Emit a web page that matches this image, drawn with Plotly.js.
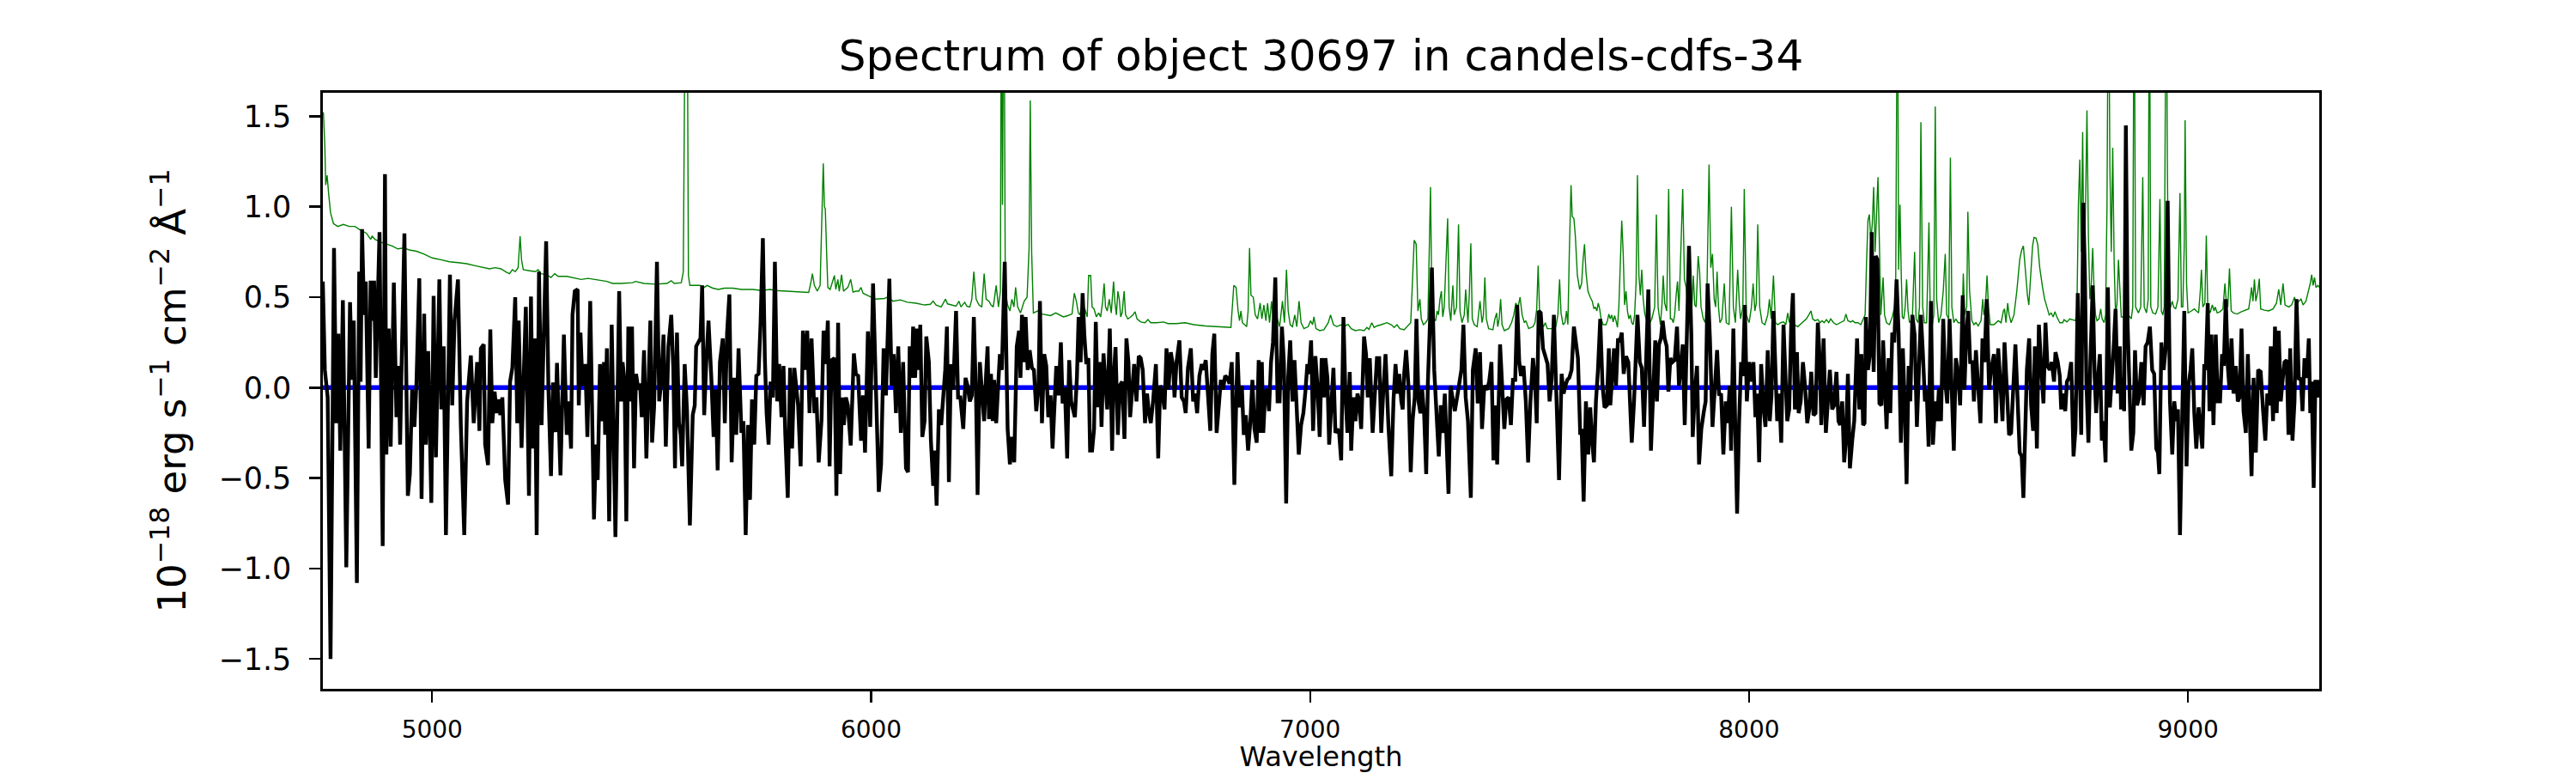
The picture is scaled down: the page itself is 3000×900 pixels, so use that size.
<!DOCTYPE html>
<html>
<head>
<meta charset="utf-8">
<script src="https://cdn.plot.ly/plotly-3.0.1.min.js"></script>
<style>
html,body{margin:0;padding:0;background:#fff;}
#chart{width:3000px;height:900px;}
</style>
</head>
<body>
<div id="chart"></div>
<script>
// Observed spectrum (black)
const wavelength = [
4750.9,4755.5,4762.0,4768.5,4776.4,4781.6,4786.2,4790.7,4796.6,4804.4,4812.9,4817.5,4821.4,4828.5,4833.8,4837.0,4840.3,4844.9,4848.8,4855.3,4859.9,4864.4,4867.7,4871.6,4880.1,4887.3,4892.5,4895.7,4901.0,4905.5,4912.7,4918.6,4923.8,4927.0,4930.3,4936.8,4944.6,4949.2,4954.4,4959.6,4964.2,4970.7,4975.9,4981.8,4985.7,4990.9,4998.1,5003.3,5008.6,5016.4,5020.9,5026.2,5031.4,5040.5,5045.7,5051.0,5058.8,5065.3,5073.1,5079.7,5088.1,5094.7,5102.5,5107.7,5111.0,5117.5,5120.7,5127.3,5132.5,5137.0,5142.3,5146.8,5151.4,5155.3,5159.9,5166.4,5172.9,5177.5,5182.7,5189.2,5193.8,5197.1,5203.6,5207.5,5213.4,5220.5,5225.1,5229.7,5233.6,5238.1,5243.4,5249.2,5254.4,5259.7,5264.9,5270.7,5275.3,5280.5,5284.4,5292.3,5300.1,5306.6,5311.2,5316.4,5319.7,5324.9,
5331.4,5334.0,5337.9,5342.5,5349.0,5353.6,5360.1,5368.6,5373.2,5377.1,5382.3,5388.2,5391.4,5394.0,5398.0,5403.2,5409.0,5412.9,5417.5,5426.0,5430.6,5433.8,5438.4,5442.3,5446.9,5452.1,5455.3,5459.9,5464.5,5469.7,5473.6,5477.5,5482.7,5488.0,5492.5,5497.1,5501.0,5505.6,5512.1,5517.3,5521.9,5527.1,5532.3,5538.2,5544.7,5549.3,5553.2,5557.7,5562.3,5566.2,5569.5,5575.3,5580.6,5587.1,5593.6,5598.2,5601.4,5606.6,5611.2,5615.1,5619.7,5624.3,5629.5,5636.0,5641.2,5645.8,5650.4,5655.6,5662.1,5666.7,5671.9,5677.1,5682.3,5688.2,5692.7,5698.0,5704.5,5709.0,5714.3,5719.5,5724.1,5728.6,5733.8,5738.4,5743.6,5748.2,5753.4,5757.9,5761.9,5766.4,5771.0,5776.2,5780.8,5786.0,5790.6,5795.8,5800.4,5804.3,5810.1,5815.4,5819.9,5825.1,5829.7,5833.6,5839.5,5844.7,5849.9,5854.5,5859.7,5864.3,5870.8,5875.4,5880.6,5887.1,5891.7,5896.9,5901.4,5905.4,5909.9,
5916.4,5920.9,5924.8,5929.4,5934.0,5937.9,5942.5,5947.0,5953.5,5960.7,5965.3,5970.5,5977.0,5981.6,5986.1,5992.7,5997.9,6004.4,6009.6,6017.5,6022.7,6028.5,6033.8,6041.6,6046.8,6051.4,6056.6,6061.8,6067.7,6072.9,6079.4,6084.0,6087.9,6092.5,6095.7,6100.3,6104.2,6108.8,6112.0,6116.6,6121.8,6125.7,6131.6,6136.2,6141.4,6144.6,6149.2,6154.4,6159.6,6164.2,6168.8,6172.7,6177.2,6181.8,6187.0,6193.5,6198.1,6203.3,6209.9,6215.1,6219.6,6224.9,6229.4,6234.0,6239.2,6242.5,6247.7,6252.2,6257.5,6262.0,6265.3,6268.5,6273.1,6277.0,6280.3,6284.9,6289.4,6293.3,6297.9,6304.4,6311.0,6316.2,6320.7,6326.0,6331.8,6337.0,6340.3,6343.6,6348.1,6352.0,6356.6,6361.2,6366.4,6370.9,6376.2,6381.4,6384.6,6389.2,6394.4,6399.0,6403.6,6408.8,6413.3,6417.3,6421.8,6427.0,6432.3,6436.2,6441.4,6446.6,6451.2,6455.7,6459.7,6464.2,6468.8,6472.7,6477.3,6481.8,6485.7,6490.3,6494.9,6498.8,
6503.4,6507.9,6511.8,6516.4,6521.0,6524.9,6529.4,6534.0,6537.9,6543.8,6549.0,6552.3,6556.8,6562.1,6566.6,6571.8,6577.1,6581.6,6586.2,6590.1,6594.7,6599.2,6604.5,6609.7,6614.2,6618.8,6624.0,6628.6,6632.5,6637.1,6642.3,6648.8,6654.0,6658.6,6663.2,6668.4,6672.9,6677.5,6682.7,6687.9,6691.2,6695.7,6702.3,6707.5,6712.7,6716.6,6721.8,6728.4,6733.6,6738.1,6742.7,6747.9,6753.2,6757.7,6762.3,6767.5,6772.7,6777.3,6781.8,6787.1,6791.6,6796.8,6801.4,6806.6,6811.8,6816.4,6821.6,6827.5,6831.4,6834.7,6839.2,6844.5,6849.0,6853.6,6858.8,6864.0,6868.6,6873.2,6878.4,6882.9,6886.9,6890.1,6893.4,6897.9,6902.5,6906.4,6911.0,6915.5,6920.8,6926.0,6930.5,6935.8,6940.3,6945.5,6950.1,6954.7,6959.9,6964.5,6968.4,6974.2,6979.5,6984.7,6989.3,6993.8,6997.1,7002.3,7006.9,7012.1,7016.7,7021.9,7026.4,7031.7,7034.9,7039.5,7043.4,7048.0,7053.2,7057.7,7062.3,7066.2,7070.8,7076.0,7080.6,7085.1,
7090.4,7093.6,7098.8,7103.4,7108.0,7111.9,7116.4,7123.0,7127.5,7131.4,7136.0,7142.5,7147.1,7152.3,7157.5,7162.1,7166.7,7171.9,7178.4,7184.9,7190.1,7194.7,7199.3,7203.2,7207.8,7211.0,7214.3,7218.8,7224.1,7229.3,7233.8,7238.4,7242.3,7246.9,7251.5,7255.4,7259.9,7264.5,7268.4,7273.0,7277.5,7282.8,7288.0,7293.2,7297.8,7302.3,7306.9,7310.2,7315.4,7319.9,7325.2,7329.7,7334.9,7340.2,7344.7,7349.3,7354.5,7359.7,7366.2,7370.8,7377.3,7381.9,7387.1,7391.7,7396.9,7403.4,7408.0,7413.2,7417.8,7421.7,7426.2,7432.8,7438.0,7442.5,7447.1,7452.3,7457.5,7462.1,7467.3,7471.9,7476.5,7480.4,7486.2,7491.5,7496.7,7501.9,7507.8,7512.3,7516.3,7520.8,7525.4,7530.6,7535.8,7541.0,7545.6,7550.2,7555.4,7561.3,7567.1,7573.0,7577.6,7581.5,7586.0,7590.6,7595.8,7601.0,7605.6,7610.2,7615.4,7618.6,7623.2,7628.4,7633.6,7638.2,7642.8,7646.7,7651.2,7655.8,7661.0,7666.2,7670.8,
7676.1,7680.6,7683.9,7688.4,7692.4,7696.9,7701.5,7705.4,7710.0,7714.5,7719.8,7725.0,7728.9,7732.8,7738.0,7741.3,7745.8,7751.1,7755.6,7760.8,7765.4,7770.6,7776.5,7781.7,7786.3,7790.2,7794.8,7799.3,7803.2,7807.8,7812.4,7816.3,7820.8,7825.4,7830.6,7835.9,7840.4,7845.0,7848.9,7853.5,7858.7,7863.2,7868.5,7871.7,7876.3,7881.5,7886.1,7891.3,7897.2,7901.1,7905.6,7910.9,7916.7,7922.0,7927.2,7931.7,7936.3,7941.5,7946.7,7951.3,7955.9,7959.1,7964.3,7968.9,7972.8,7977.4,7981.9,7985.9,7990.4,7995.0,8000.2,8005.4,8010.0,8014.5,8018.5,8023.0,8027.6,8032.8,8037.4,8042.6,8047.2,8051.1,8055.6,8060.2,8064.1,8068.7,8073.3,8078.5,8083.0,8087.0,8091.5,8096.1,8100.0,8104.5,8109.1,8113.0,8117.6,8122.8,8127.4,8132.6,8137.2,8141.7,8146.9,8151.5,8156.7,8161.3,8164.6,8169.8,8175.0,8179.6,8184.1,8189.3,8193.9,8199.1,8203.7,8207.6,8212.2,8216.7,8220.6,8225.2,8229.8,8235.0,8239.6,8246.1,8251.3,8255.9,8259.8,
8263.1,8266.3,8270.9,8275.4,8279.4,8283.9,8288.5,8292.4,8297.0,8301.5,8305.4,8310.0,8313.3,8317.8,8321.8,8326.3,8330.9,8336.1,8340.7,8345.9,8350.4,8354.4,8358.9,8363.5,8367.4,8372.0,8377.2,8382.4,8387.0,8391.5,8396.1,8400.7,8404.6,8409.1,8414.4,8418.9,8424.2,8428.7,8432.6,8437.2,8442.4,8447.0,8451.5,8456.8,8462.0,8466.5,8471.1,8476.3,8480.9,8486.8,8490.7,8494.6,8499.2,8503.7,8508.9,8512.2,8516.8,8522.0,8527.2,8531.8,8536.3,8541.5,8546.8,8551.3,8557.9,8562.4,8567.6,8572.9,8577.4,8582.0,8587.2,8592.4,8597.0,8601.6,8606.8,8612.0,8616.6,8621.1,8625.0,8629.6,8632.9,8638.1,8642.6,8647.2,8651.1,8655.7,8660.3,8665.5,8670.7,8675.3,8679.8,8685.0,8689.6,8694.8,8698.1,8703.3,8707.9,8711.1,8715.7,8720.3,8724.2,8728.7,8733.9,8739.2,8743.7,8748.9,8753.5,8756.8,8761.3,8765.2,8768.5,8773.1,8777.6,8782.9,8787.4,8790.7,8794.6,8799.2,8803.7,8807.6,8812.2,8817.4,8822.0,8826.6,8830.5,8835.0,8839.6,8844.8,8847.4,
8851.3,8854.5,8858.4,8862.3,8866.3,8870.8,8875.4,8879.3,8883.9,8888.4,8893.7,8898.9,8903.4,8908.0,8913.2,8918.4,8923.0,8927.6,8931.5,8934.7,8939.3,8944.5,8949.1,8953.7,8958.9,8964.1,8968.7,8973.2,8977.1,8981.7,8986.3,8991.5,8996.7,9001.3,9005.8,9009.7,9014.3,9018.9,9024.1,9028.7,9032.6,9037.1,9040.4,9045.0,9048.9,9053.4,9058.0,9063.2,9067.8,9073.0,9077.6,9081.5,9086.1,9090.6,9094.5,9099.1,9103.7,9108.9,9113.4,9117.4,9121.9,9126.5,9131.7,9136.3,9140.2,9144.8,9149.3,9154.5,9159.8,9165.6,9170.8,9176.1,9180.6,9185.8,9188.5,9193.7,9198.2,9202.1,9206.7,9211.3,9215.2,9219.8,9225.0,9228.9,9232.8,9238.0,9242.6,9247.2,9252.4,9256.9,9260.8,9265.4,9270.6,9275.2,9278.5,9281.7,9286.3,9290.2,9294.8,9298.0
];
const flux = [
0.587,0.098,-0.054,-1.500,0.772,-0.196,0.298,-0.348,0.483,-0.993,0.472,0.043,0.370,-1.080,0.641,0.033,0.876,0.402,0.587,-0.337,0.591,0.370,0.591,0.054,0.859,-0.876,1.180,-0.370,0.326,-0.326,0.580,-0.163,0.120,-0.315,0.115,0.852,-0.598,-0.478,-0.011,-0.217,0.022,0.604,-0.615,0.409,-0.315,0.202,-0.637,0.507,-0.385,0.598,-0.120,0.228,-0.815,0.624,-0.098,0.370,0.598,-0.207,-0.815,-0.076,0.178,-0.196,0.141,-0.239,0.217,0.239,-0.315,-0.428,0.322,-0.196,-0.022,-0.141,-0.065,-0.152,-0.054,-0.511,-0.646,0.033,0.109,0.500,-0.196,0.370,-0.333,0.017,0.446,-0.598,0.504,-0.337,0.272,-0.815,0.641,-0.207,0.293,0.809,-0.011,-0.489,0.028,-0.246,0.137,-0.485,0.293,-0.261,-0.076,-0.337,0.402,0.533,
0.543,-0.098,0.304,0.011,0.130,-0.272,0.478,-0.728,-0.315,-0.511,0.130,-0.185,0.141,-0.261,0.217,-0.739,0.348,-0.228,-0.826,0.533,-0.076,0.141,0.033,-0.739,0.337,-0.076,0.337,-0.446,0.076,-0.011,0.022,-0.163,0.207,-0.391,-0.043,0.370,-0.304,-0.109,0.696,-0.076,0.033,0.293,-0.326,0.228,0.402,0.109,-0.446,0.304,-0.196,-0.261,-0.435,0.130,-0.130,-0.761,-0.152,-0.098,0.228,0.250,0.272,0.565,-0.152,0.130,0.370,0.054,-0.272,-0.011,-0.457,0.141,0.272,-0.196,0.304,0.515,-0.413,0.054,-0.261,0.217,-0.250,-0.185,-0.815,-0.207,-0.620,-0.065,-0.315,0.065,0.076,0.359,0.826,0.163,-0.141,-0.315,0.033,-0.054,0.696,-0.076,0.130,-0.163,0.120,-0.250,-0.609,0.109,-0.337,0.109,0.011,-0.098,-0.435,0.315,0.098,0.315,-0.141,0.272,-0.141,-0.054,-0.413,-0.174,0.315,0.130,0.370,-0.435,0.152,
0.163,-0.598,0.359,-0.478,-0.054,-0.207,-0.054,-0.098,-0.320,0.189,0.076,0.065,-0.293,-0.043,-0.359,0.311,-0.217,0.576,0.054,-0.576,-0.424,0.217,-0.043,0.602,0.011,0.185,-0.141,0.228,-0.250,0.141,-0.446,-0.467,0.228,0.054,0.337,0.054,0.326,0.098,0.348,-0.272,-0.185,0.283,0.141,-0.293,-0.543,-0.348,-0.652,-0.120,-0.207,-0.054,0.098,0.337,-0.522,0.130,-0.011,0.424,-0.054,-0.054,-0.228,0.054,0.011,-0.076,-0.043,0.391,-0.076,-0.593,0.141,-0.011,-0.185,0.076,0.228,-0.174,0.076,-0.185,0.043,-0.196,0.054,0.185,0.098,0.696,-0.228,-0.424,-0.272,-0.413,0.228,0.315,0.054,0.402,0.141,0.391,0.098,0.207,0.109,0.098,-0.130,0.011,0.478,-0.196,0.185,0.120,-0.163,-0.043,-0.337,-0.120,0.120,-0.043,0.250,-0.087,0.000,-0.391,0.152,-0.076,-0.109,-0.163,0.054,0.391,0.141,0.522,0.293,0.130,0.163,-0.348,
-0.348,-0.228,0.363,-0.109,0.141,-0.217,0.189,-0.011,-0.120,0.326,-0.348,0.043,0.224,-0.261,0.011,0.033,-0.283,0.272,0.141,-0.163,-0.011,0.130,-0.076,0.174,0.163,0.098,-0.196,-0.033,-0.130,-0.196,-0.076,0.130,-0.391,0.011,-0.022,-0.120,0.217,-0.011,0.196,0.120,-0.054,0.141,0.261,-0.054,-0.076,-0.141,0.109,0.217,-0.076,-0.033,-0.141,0.065,0.130,0.098,0.152,-0.076,-0.239,0.185,0.298,-0.250,-0.076,0.043,-0.011,0.065,0.054,0.022,0.141,-0.537,-0.109,0.196,-0.109,0.011,-0.261,-0.152,-0.348,-0.185,0.043,-0.228,-0.304,0.152,-0.250,0.141,-0.250,-0.022,-0.011,-0.130,0.141,0.250,0.609,-0.076,-0.076,0.337,0.141,-0.641,0.054,0.261,-0.076,0.152,-0.054,-0.370,-0.207,-0.141,-0.022,0.130,0.076,0.261,-0.239,0.174,0.011,-0.272,0.163,-0.054,0.163,0.054,-0.315,-0.098,0.109,-0.250,-0.228,-0.250,-0.402,0.391,-0.043,-0.250,
0.087,-0.348,-0.054,-0.185,-0.033,-0.076,-0.228,0.283,0.185,-0.054,0.163,-0.250,-0.022,0.163,0.163,-0.250,-0.022,0.185,-0.207,-0.489,-0.065,0.130,-0.033,0.076,-0.076,-0.120,0.076,0.207,0.011,-0.467,-0.174,-0.054,0.380,-0.076,-0.141,-0.011,-0.152,-0.478,0.033,0.402,0.663,0.098,-0.141,-0.380,-0.098,-0.250,-0.033,-0.250,-0.587,0.011,-0.054,-0.130,-0.054,0.043,0.098,0.348,-0.054,-0.185,-0.609,0.098,0.217,-0.087,0.196,-0.228,0.011,-0.011,0.033,0.141,-0.402,-0.098,-0.424,0.239,-0.076,-0.228,-0.065,-0.054,-0.207,0.043,0.043,0.457,0.141,0.065,0.120,-0.076,-0.413,-0.076,0.163,0.043,-0.196,0.424,0.413,0.217,0.174,0.130,-0.076,0.043,0.402,0.011,-0.511,0.076,-0.033,0.011,0.043,0.054,0.098,0.337,0.261,0.163,-0.261,-0.228,-0.630,-0.076,-0.370,-0.109,-0.304,-0.413,-0.076,0.098,0.380,0.011,-0.109,
-0.098,0.217,-0.098,0.065,0.217,0.011,0.272,0.250,0.304,0.076,0.174,0.141,-0.109,-0.304,-0.076,0.098,0.402,0.141,0.109,-0.217,0.141,0.543,-0.348,-0.033,0.261,-0.076,0.239,0.272,0.370,0.272,0.228,-0.022,0.163,0.141,0.152,0.337,0.011,0.120,0.239,-0.207,0.272,0.783,0.293,-0.272,-0.033,0.120,-0.424,-0.228,-0.130,-0.076,0.576,0.272,-0.217,0.033,0.207,-0.043,-0.033,-0.370,-0.076,-0.196,0.011,-0.348,0.326,-0.250,-0.696,-0.185,0.141,0.065,0.457,-0.076,0.141,0.033,0.141,-0.163,-0.033,-0.413,0.130,-0.109,-0.217,0.207,-0.185,-0.043,0.424,0.098,-0.185,-0.033,-0.304,0.348,0.054,-0.185,-0.120,0.348,0.522,-0.120,0.196,-0.141,-0.076,0.141,0.011,-0.196,-0.120,0.087,-0.152,-0.141,0.359,0.141,-0.207,0.272,-0.250,-0.076,0.098,-0.120,-0.098,0.087,-0.185,-0.207,-0.076,-0.413,-0.293,0.076,-0.446,-0.293,-0.185,0.272,-0.120,0.185,-0.207,
-0.196,0.391,0.098,0.185,0.859,0.087,0.728,0.707,-0.087,-0.098,0.261,-0.120,-0.228,0.163,-0.141,0.304,0.250,0.598,0.304,-0.304,0.217,-0.076,-0.533,0.120,-0.076,0.402,0.293,-0.217,0.141,0.402,0.185,-0.076,-0.011,-0.326,0.478,-0.315,-0.076,-0.185,0.000,-0.185,0.380,0.033,-0.087,0.380,-0.033,-0.348,0.163,0.076,-0.098,0.511,-0.011,0.272,0.424,0.141,0.141,-0.076,0.207,0.033,-0.196,0.272,0.141,0.489,-0.011,0.098,0.185,-0.196,0.217,0.011,-0.185,0.250,-0.011,-0.261,-0.250,-0.011,0.239,-0.076,-0.359,-0.380,-0.609,-0.207,0.098,0.272,-0.098,-0.239,0.228,-0.337,0.348,0.120,-0.087,0.359,0.120,0.098,0.141,0.033,0.196,0.141,0.065,-0.120,-0.033,-0.130,0.033,0.054,0.141,-0.380,-0.228,0.522,-0.076,-0.261,1.022,0.620,0.033,-0.304,0.141,0.565,0.054,-0.141,0.043,0.185,-0.293,-0.185,-0.413,0.554,-0.109,0.033,0.217,0.435,-0.033,0.228,-0.120,
0.054,-0.130,1.450,0.359,0.033,-0.348,-0.250,0.207,-0.098,-0.054,0.141,-0.098,0.228,0.250,0.337,0.098,0.076,-0.337,-0.359,-0.478,0.250,0.098,0.217,1.033,-0.076,-0.370,-0.076,-0.185,-0.120,-0.815,-0.228,0.424,-0.435,0.011,0.098,0.217,-0.141,-0.337,-0.109,-0.250,-0.337,0.130,0.098,0.467,-0.130,0.293,-0.207,0.293,-0.076,-0.076,0.185,0.120,0.489,0.120,-0.011,0.272,-0.033,0.120,-0.076,-0.054,0.326,-0.130,-0.250,0.185,-0.185,-0.489,0.054,-0.359,0.098,0.087,-0.120,-0.293,-0.033,-0.098,0.228,-0.185,0.337,-0.141,0.315,-0.076,0.033,0.141,0.152,-0.261,0.217,-0.293,-0.076,0.489,0.043,0.054,-0.130,0.163,0.054,0.272,-0.141,0.033,-0.554,0.033,0.033,-0.054
];

// Noise / sky spectrum (green)
const skyWavelength = [
4752.2,4755.5,4757.5,4760.7,4764.0,4768.5,4775.1,4784.9,4797.9,4810.9,4824.0,4837.0,4850.1,4859.9,4863.1,4869.6,4882.7,4895.7,4908.8,4921.8,4934.9,4947.9,4964.2,4980.5,5000.1,5019.6,5039.2,5058.8,5078.3,5097.9,5117.5,5130.5,5143.6,5156.6,5169.7,5176.2,5182.7,5189.2,5195.8,5200.3,5203.6,5207.5,5221.8,5234.9,5241.4,5247.9,5261.0,5270.7,5279.2,5287.1,5306.6,
5326.2,5339.2,5355.5,5378.4,5397.9,5411.0,5430.6,5456.6,5463.2,5482.7,5508.8,5534.9,5544.7,5551.2,5567.5,5572.1,5574.0,5577.3,5580.6,5583.8,5587.1,5600.1,5609.9,5619.7,5626.2,5639.3,5652.3,5665.3,5684.9,5704.5,5730.6,5750.1,5769.7,5782.7,5808.8,5834.9,5857.7,5862.3,5866.2,5870.8,5877.3,5883.8,5888.4,5891.0,5893.6,5895.6,5898.9,5901.4,5906.7,
5913.1,5916.4,5919.6,5924.2,5927.4,5932.7,5937.2,5942.5,5947.0,5953.5,5958.8,5965.3,5971.8,5977.0,5981.6,5994.6,6010.9,6030.5,6037.0,6050.1,6066.4,6082.7,6102.2,6121.8,6134.9,6141.4,6147.9,6159.6,6169.4,6174.0,6183.8,6193.5,6200.1,6204.6,6213.1,6218.3,6224.9,6229.4,6234.0,6239.2,6245.7,6252.2,6257.5,6262.0,6268.5,6273.1,6278.3,6284.9,6290.1,6294.6,6296.6,6299.2,6302.5,6305.7,6310.9,6316.2,6320.7,6325.3,6329.2,6333.8,6340.3,6348.8,6355.3,6359.9,6362.5,6365.7,6369.6,6379.4,6389.2,6408.8,6420.5,6428.3,6438.1,6447.9,6457.7,6462.9,6467.5,6472.0,6475.3,6480.5,6487.0,6492.3,6495.5,
6500.1,6503.4,6507.9,6513.1,6518.4,6522.9,6527.5,6530.8,6534.0,6537.9,6542.5,6547.1,6552.3,6555.5,6558.8,6562.1,6565.3,6568.6,6571.8,6576.4,6579.7,6584.9,6591.4,6596.6,6601.2,6605.8,6614.2,6624.0,6630.5,6637.1,6650.1,6666.4,6676.2,6695.8,6715.3,6734.9,6761.0,6793.6,6819.7,6826.2,6831.4,6836.0,6839.2,6842.5,6845.8,6855.5,6858.8,6862.1,6865.3,6870.6,6875.1,6880.3,6886.2,6890.1,6894.7,6899.3,6903.2,6907.7,6912.3,6917.5,6924.0,6930.6,6937.1,6941.6,6946.2,6950.1,6954.7,6959.9,6965.1,6969.7,6974.9,6979.5,6986.0,6995.8,7001.0,7005.6,7008.8,7013.4,7021.9,7031.6,7041.4,7046.6,7053.2,7061.0,7070.8,7077.3,7083.8,
7087.1,7093.6,7103.4,7113.2,7123.0,7129.5,7134.1,7140.6,7145.8,7152.3,7162.1,7175.1,7184.9,7191.5,7198.0,7204.5,7214.3,7220.8,7229.3,7233.8,7237.1,7241.7,7245.6,7250.2,7253.4,7258.0,7263.2,7268.4,7271.7,7274.3,7277.5,7281.5,7286.0,7289.3,7292.5,7295.8,7299.1,7302.3,7305.6,7308.8,7313.4,7316.7,7320.6,7325.2,7328.4,7333.6,7338.2,7341.5,7346.0,7351.2,7354.5,7359.7,7363.0,7366.2,7369.5,7374.1,7380.6,7387.1,7391.7,7394.9,7398.2,7401.5,7406.7,7416.5,7421.0,7425.0,7427.5,7430.8,7434.1,7437.3,7442.5,7452.3,7458.9,7464.1,7468.6,7473.9,7478.4,7483.0,7488.2,7491.5,7498.0,7507.8,7512.3,7516.3,7519.5,7522.8,7527.3,7531.9,7535.8,7540.4,7550.2,7559.9,7564.5,7568.4,7571.7,7576.3,7580.8,7584.1,7587.3,7590.6,7594.5,7597.1,7601.0,7604.3,7608.9,7614.1,7618.6,7621.9,7625.2,7628.4,7633.0,7638.2,7642.8,7646.7,7649.9,7653.2,7656.5,7659.7,7663.0,7667.5,
7674.1,7677.4,7680.6,7683.9,7687.1,7690.4,7693.7,7696.9,7700.2,7703.4,7706.7,7710.0,7713.2,7716.5,7719.8,7723.0,7726.3,7729.5,7732.8,7736.1,7739.3,7742.6,7745.8,7749.1,7752.4,7755.6,7758.9,7762.1,7765.4,7771.9,7778.5,7785.0,7788.9,7792.8,7798.0,7801.3,7804.5,7807.8,7812.4,7816.9,7820.8,7824.1,7827.4,7830.6,7833.9,7837.1,7840.4,7845.0,7848.9,7852.8,7856.7,7860.0,7863.2,7868.5,7873.0,7876.3,7879.5,7884.1,7887.4,7890.6,7895.8,7900.4,7904.3,7908.9,7912.8,7916.7,7920.6,7923.9,7927.2,7930.4,7933.7,7938.2,7943.5,7948.0,7954.5,7959.8,7964.3,7968.9,7974.1,7978.0,7980.6,7985.9,7989.1,7993.7,8000.2,8005.4,8009.3,8013.2,8016.5,8019.8,8024.3,8029.6,8036.1,8042.6,8046.5,8050.4,8055.6,8060.2,8065.4,8072.0,8078.5,8083.7,8088.2,8091.5,8101.3,8111.1,8120.9,8130.6,8137.2,8141.1,8145.0,8150.2,8156.7,8162.0,8166.5,8171.1,8176.3,8181.5,8186.1,8192.6,8199.1,8208.9,8216.7,8220.6,8225.2,8231.7,8236.3,8241.5,8248.0,8254.6,
8261.1,8264.4,8267.6,8270.9,8274.1,8277.4,8280.7,8283.9,8287.2,8290.4,8293.7,8297.0,8300.2,8305.4,8308.7,8313.3,8319.8,8326.3,8331.5,8334.1,8338.1,8340.7,8343.9,8346.5,8349.1,8352.4,8355.7,8358.9,8362.2,8365.5,8372.0,8377.2,8380.5,8385.0,8388.3,8391.5,8395.5,8399.4,8404.6,8409.8,8413.1,8417.6,8420.9,8424.2,8427.4,8432.0,8437.2,8442.4,8447.0,8450.2,8454.8,8458.7,8462.0,8466.5,8471.1,8476.3,8482.9,8486.1,8488.1,8491.3,8495.9,8498.5,8502.4,8507.6,8512.2,8516.8,8522.0,8528.5,8532.4,8535.0,8538.3,8542.2,8545.5,8549.4,8557.9,8567.6,8574.2,8579.4,8582.0,8585.2,8589.2,8592.4,8597.0,8603.5,8610.0,8616.6,8621.1,8625.0,8629.6,8634.2,8637.4,8641.3,8645.9,8649.2,8653.7,8657.6,8662.2,8668.7,8673.3,8678.5,8683.7,8688.3,8692.9,8696.8,8701.3,8707.9,8714.4,8717.6,8724.2,8730.7,8737.2,8743.7,8747.0,8750.3,8753.5,8756.8,8760.0,8763.3,8766.6,8769.8,8773.1,8776.3,8779.6,8782.9,8786.1,8789.4,8792.6,8797.2,8801.1,8804.4,8808.9,8812.2,8815.5,8818.7,8822.0,8825.2,8828.5,8831.8,8835.0,8838.3,8841.5,8844.8,
8848.0,8857.8,8864.3,8870.8,8874.1,8877.3,8880.6,8887.1,8892.3,8896.9,8900.2,8905.4,8909.3,8911.9,8915.2,8919.7,8926.3,8931.5,8936.0,8939.3,8942.6,8945.8,8949.1,8950.4,8953.0,8955.6,8958.9,8964.1,8967.4,8971.9,8977.1,8981.7,8985.0,8988.2,8991.5,8993.4,8996.7,9000.0,9007.8,9014.3,9018.9,9024.1,9028.0,9030.6,9033.9,9038.4,9041.7,9045.0,9050.2,9055.4,9059.3,9061.9,9066.5,9073.0,9079.5,9084.1,9087.4,9090.6,9094.5,9098.4,9103.7,9112.1,9121.9,9131.7,9138.2,9141.5,9144.8,9148.0,9151.3,9154.5,9159.1,9162.4,9165.6,9174.1,9183.9,9193.7,9201.5,9206.7,9211.3,9216.5,9221.1,9229.5,9236.1,9239.3,9242.6,9247.1,9252.4,9257.6,9262.1,9268.7,9273.2,9278.5,9281.7,9285.0,9288.2,9291.5,9296.1,9299.3
];
const skyError = [
1.522,1.337,1.120,1.174,1.076,0.967,0.907,0.891,0.902,0.891,0.891,0.870,0.854,0.820,0.837,0.820,0.804,0.793,0.783,0.767,0.772,0.761,0.754,0.739,0.717,0.707,0.696,0.691,0.685,0.674,0.663,0.657,0.663,0.657,0.637,0.630,0.652,0.641,0.663,0.837,0.707,0.652,0.646,0.641,0.652,0.630,0.624,0.609,0.630,0.615,0.615,
0.604,0.598,0.604,0.593,0.587,0.576,0.576,0.580,0.587,0.576,0.572,0.576,0.591,0.576,0.580,0.641,2.5,2.5,2.5,0.620,0.565,0.565,0.565,0.554,0.565,0.550,0.543,0.550,0.550,0.543,0.543,0.537,0.543,0.537,0.533,0.528,0.526,0.576,0.630,0.565,0.533,0.565,1.033,1.239,1.000,0.989,0.728,0.554,0.543,
0.587,0.620,0.543,0.598,0.533,0.624,0.533,0.543,0.554,0.598,0.528,0.533,0.533,0.554,0.522,0.507,0.489,0.493,0.500,0.478,0.485,0.472,0.467,0.457,0.461,0.478,0.457,0.446,0.489,0.463,0.457,0.450,0.478,0.446,0.472,0.450,0.446,0.489,0.641,0.489,0.457,0.446,0.630,0.489,0.478,0.457,0.446,0.565,0.446,0.533,2.5,1.011,2.5,0.533,0.457,0.424,0.489,0.446,0.554,0.446,0.413,0.478,0.500,0.772,1.587,0.750,0.413,0.424,0.407,0.398,0.413,0.402,0.391,0.398,0.407,0.522,0.478,0.413,0.402,0.457,0.435,0.391,0.620,
0.620,0.446,0.435,0.391,0.413,0.391,0.478,0.576,0.446,0.424,0.489,0.413,0.587,0.467,0.402,0.533,0.489,0.391,0.413,0.533,0.402,0.380,0.391,0.402,0.420,0.380,0.363,0.359,0.376,0.359,0.359,0.363,0.354,0.354,0.359,0.348,0.341,0.337,0.333,0.565,0.554,0.424,0.370,0.424,0.359,0.337,0.424,0.772,0.511,0.500,0.402,0.380,0.467,0.380,0.457,0.370,0.467,0.359,0.478,0.337,0.391,0.337,0.478,0.359,0.652,0.424,0.348,0.337,0.402,0.337,0.478,0.359,0.326,0.337,0.370,0.348,0.391,0.326,0.315,0.320,0.359,0.402,0.348,0.337,0.348,0.333,0.348,
0.348,0.326,0.315,0.320,0.315,0.333,0.322,0.359,0.333,0.341,0.348,0.359,0.348,0.333,0.348,0.326,0.320,0.337,0.359,0.620,0.815,0.793,0.424,0.489,0.380,0.348,0.359,0.380,0.728,1.109,0.467,0.380,0.370,0.424,0.402,0.489,0.533,0.391,0.446,0.685,0.935,0.446,0.370,0.565,0.402,0.446,0.902,0.424,0.359,0.402,0.543,0.359,0.533,0.798,0.380,0.348,0.337,0.478,0.359,0.402,0.609,0.380,0.326,0.320,0.380,0.413,0.337,0.380,0.489,0.348,0.315,0.326,0.359,0.402,0.467,0.446,0.500,0.402,0.359,0.370,0.326,0.337,0.359,0.435,0.674,0.424,0.359,0.337,0.359,0.326,0.326,0.337,0.402,0.598,0.413,0.348,0.359,0.424,0.348,0.750,1.120,0.946,0.935,0.837,0.620,0.543,0.576,0.707,0.793,0.641,0.533,0.500,0.478,0.435,0.446,0.424,0.467,0.435,0.380,0.348,
0.348,0.370,0.407,0.380,0.402,0.363,0.398,0.370,0.333,0.446,0.750,0.924,0.750,0.457,0.533,0.424,0.380,0.402,0.359,0.348,0.402,0.576,1.174,0.620,0.511,0.652,0.489,0.413,0.380,0.348,0.380,0.446,0.957,0.446,0.348,0.446,0.620,0.467,0.424,1.098,0.380,0.380,0.359,0.402,0.511,0.587,0.424,0.750,1.098,0.598,0.554,0.457,0.359,0.380,0.620,0.457,0.446,0.728,0.641,0.446,0.380,0.359,0.565,1.233,0.663,0.739,0.489,0.446,0.641,0.446,0.359,0.380,0.576,0.359,0.348,1.000,0.446,0.359,0.652,0.457,0.380,0.446,1.098,0.402,0.359,0.446,0.576,0.424,0.467,0.902,0.446,0.359,0.348,0.402,0.489,0.380,0.620,0.359,0.348,0.359,0.363,0.348,0.413,0.363,0.348,0.337,0.359,0.380,0.407,0.424,0.380,0.370,0.376,0.359,0.370,0.359,0.376,0.359,0.380,0.359,0.348,0.359,0.370,0.407,0.370,0.363,0.370,0.359,0.359,0.348,
0.380,0.402,0.685,0.924,0.957,0.815,0.902,1.109,0.750,0.946,1.163,0.793,0.402,0.609,0.402,0.359,0.348,0.391,0.446,0.576,2.5,0.652,1.011,0.652,0.391,0.380,0.446,0.598,0.424,0.359,0.380,0.750,0.380,0.359,0.446,1.467,0.446,0.359,0.359,0.913,0.359,0.348,0.402,1.554,0.489,0.359,0.402,0.533,0.739,0.402,0.380,1.272,0.446,0.359,0.380,0.359,0.359,0.446,0.630,0.402,0.446,0.972,0.533,0.370,0.348,0.359,0.341,0.370,0.489,0.402,0.446,0.620,0.446,0.348,0.348,0.370,0.359,0.424,0.435,0.359,0.467,0.402,0.359,0.402,0.533,0.707,0.761,0.783,0.641,0.511,0.457,0.598,0.783,0.830,0.826,0.793,0.663,0.554,0.489,0.446,0.402,0.413,0.391,0.420,0.391,0.359,0.359,0.376,0.363,0.380,0.376,0.370,0.446,1.011,1.261,0.750,1.413,0.576,1.011,1.533,0.837,0.489,0.576,0.772,0.533,0.402,0.370,0.380,0.435,0.380,0.359,0.402,1.011,2.5,1.228,0.750,1.326,0.685,0.402,0.467,0.707,0.533,
0.391,0.391,0.402,0.380,0.446,2.5,0.446,0.413,0.446,1.163,0.446,0.413,0.489,2.5,0.446,0.413,0.407,0.446,1.043,0.424,0.402,0.446,1.228,2.5,1.228,0.478,0.435,0.478,0.446,0.435,0.489,1.076,0.446,0.446,0.793,1.478,0.576,0.413,0.424,0.435,0.424,0.413,0.533,0.652,0.446,0.467,0.841,0.446,0.413,0.457,0.424,0.446,0.413,0.420,0.435,0.576,0.467,0.446,0.659,0.424,0.413,0.407,0.420,0.428,0.435,0.489,0.554,0.478,0.598,0.478,0.533,0.602,0.435,0.428,0.424,0.435,0.467,0.543,0.457,0.576,0.457,0.446,0.457,0.478,0.500,0.457,0.478,0.489,0.457,0.478,0.522,0.576,0.624,0.565,0.609,0.554,0.565,0.554
];

// Model (blue)
const modelWavelength = [4751, 9299];
const modelFlux = [0, 0];

// Axis ticks
const xTickValues = [5000, 6000, 7000, 8000, 9000];
const xTickLabels = ["5000", "6000", "7000", "8000", "9000"];
const yTickValues = [-1.5, -1.0, -0.5, 0.0, 0.5, 1.0, 1.5];
const yTickLabels = ["\u22121.5", "\u22121.0", "\u22120.5", "0.0", "0.5", "1.0", "1.5"];

const chartTitle = "Spectrum of object 30697 in candels-cdfs-34";
const xTitle = "Wavelength";
const yTitle = "10<sup>\u221218</sup> erg s<sup>\u22121</sup> cm<sup>\u22122</sup> \u00c5<sup>\u22121</sup>";

const FONT = "DejaVu Sans, sans-serif";

const traces = [
  {x: skyWavelength, y: skyError, type: "scatter", mode: "lines",
   line: {color: "#008000", width: 1.4}, hoverinfo: "skip"},
  {x: modelWavelength, y: modelFlux, type: "scatter", mode: "lines",
   line: {color: "#0000ff", width: 5.5}, hoverinfo: "skip"},
  {x: wavelength, y: flux, type: "scatter", mode: "lines",
   line: {color: "#000000", width: 4.4}, hoverinfo: "skip"}
];

const layout = {
  width: 3000, height: 900,
  paper_bgcolor: "#ffffff", plot_bgcolor: "#ffffff",
  showlegend: false,
  margin: {l: 376, r: 299, t: 108, b: 98, pad: 0},
  font: {family: FONT, color: "#000000"},
  title: {text: chartTitle, font: {family: FONT, size: 50, color: "#000"},
          x: 0.5, xref: "paper", xanchor: "center",
          y: 1 - 64/900, yref: "container", yanchor: "middle"},
  xaxis: {
    range: [4751, 9299], tickmode: "array", tickvals: xTickValues, ticktext: xTickLabels,
    ticks: "outside", ticklen: 13, tickwidth: 2.4, tickcolor: "#000",
    showline: true, linewidth: 2.6, linecolor: "#000", mirror: true,
    showgrid: false, zeroline: false,
    tickfont: {family: FONT, size: 28, color: "#000"},
    ticklabelstandoff: 8,
    title: {text: xTitle, font: {family: FONT, size: 32, color: "#000"}, standoff: 4}
  },
  yaxis: {
    range: [-1.665, 1.63], tickmode: "array", tickvals: yTickValues, ticktext: yTickLabels,
    ticks: "outside", ticklen: 13, tickwidth: 2.4, tickcolor: "#000",
    showline: true, linewidth: 2.6, linecolor: "#000", mirror: true,
    showgrid: false, zeroline: false,
    tickfont: {family: FONT, size: 35, color: "#000"},
    ticklabelstandoff: 14,
    title: {text: yTitle, font: {family: FONT, size: 45, color: "#000"}, standoff: 24}
  }
};

Plotly.newPlot("chart", traces, layout, {staticPlot: true, displayModeBar: false});
</script>
</body>
</html>
